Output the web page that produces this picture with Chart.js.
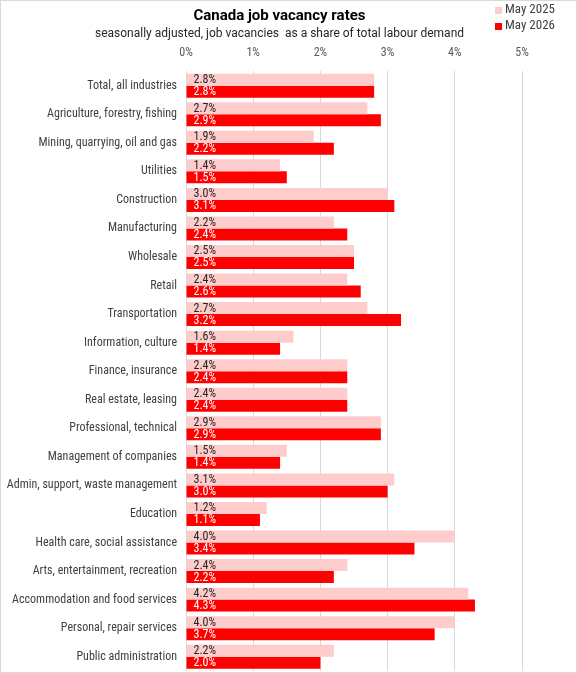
<!DOCTYPE html>
<html>
<head>
<meta charset="utf-8">
<script src="https://cdn.jsdelivr.net/npm/chart.js@4.4.1/dist/chart.umd.min.js"></script>
<style>
  html, body { margin: 0; padding: 0; background: #fff; }
  #wrap { width: 577px; height: 673px; box-sizing: border-box; border: 1px solid #d9d9d9; position: relative; }
  #wrap canvas { position: absolute; left: 0; top: 0; }
</style>
</head>
<body>
<div id="wrap"><canvas id="vacancyChart" width="577" height="673"></canvas></div>
<script>
// --- data ---
const industries = [
  "Total, all industries",
  "Agriculture, forestry, fishing",
  "Mining, quarrying, oil and gas",
  "Utilities",
  "Construction",
  "Manufacturing",
  "Wholesale",
  "Retail",
  "Transportation",
  "Information, culture",
  "Finance, insurance",
  "Real estate, leasing",
  "Professional, technical",
  "Management of companies",
  "Admin, support, waste management",
  "Education",
  "Health care, social assistance",
  "Arts, entertainment, recreation",
  "Accommodation and food services",
  "Personal, repair services",
  "Public administration"
];
const may2025 = [2.8, 2.7, 1.9, 1.4, 3.0, 2.2, 2.5, 2.4, 2.7, 1.6, 2.4, 2.4, 2.9, 1.5, 3.1, 1.2, 4.0, 2.4, 4.2, 4.0, 2.2];
const may2026 = [2.8, 2.9, 2.2, 1.5, 3.1, 2.4, 2.5, 2.6, 3.2, 1.4, 2.4, 2.4, 2.9, 1.4, 3.0, 1.1, 3.4, 2.2, 4.3, 3.7, 2.0];
const seriesNames = ["May 2025", "May 2026"];
const xTicks = [0, 1, 2, 3, 4, 5];

const FONT = "Roboto";
const NARROW = "'Liberation Sans Narrow', 'Roboto Condensed', Roboto";

// value labels at the start of each bar
const barStartLabels = {
  id: "barStartLabels",
  afterDatasetsDraw(chart) {
    const ctx = chart.ctx;
    ctx.save();
    ctx.font = "12px " + NARROW;
    ctx.textBaseline = "middle";
    ctx.textAlign = "left";
    chart.data.datasets.forEach((ds, di) => {
      const meta = chart.getDatasetMeta(di);
      meta.data.forEach((bar, i) => {
        ctx.fillStyle = ds.labelColor;
        ctx.fillText(ds.data[i].toFixed(1) + "%", bar.base + 7, bar.y + 0.5);
      });
    });
    ctx.restore();
  }
};

// small legend in the top right corner
const cornerLegend = {
  id: "cornerLegend",
  afterDraw(chart) {
    const ctx = chart.ctx;
    ctx.save();
    ctx.font = "13px " + NARROW;
    ctx.textBaseline = "middle";
    ctx.textAlign = "left";
    chart.data.datasets.forEach((ds, di) => {
      const y = 9 + di * 16;
      ctx.fillStyle = ds.backgroundColor;
      ctx.fillRect(494, y - 3, 7, 7);
      ctx.fillStyle = "#404040";
      ctx.fillText(ds.label, 504, y);
    });
    ctx.restore();
  }
};

const ctx = document.getElementById("vacancyChart").getContext("2d");
new Chart(ctx, {
  type: "bar",
  data: {
    labels: industries,
    datasets: [
      { label: seriesNames[0], data: may2025, backgroundColor: "#ffcccc", labelColor: "#262626" },
      { label: seriesNames[1], data: may2026, backgroundColor: "#ff0000", labelColor: "#ffffff" }
    ]
  },
  options: {
    indexAxis: "y",
    responsive: false,
    animation: false,
    devicePixelRatio: 1,
    categoryPercentage: 0.84,
    barPercentage: 1.0,
    layout: { padding: { top: 0, right: 20, bottom: 3, left: 0 } },
    plugins: {
      legend: { display: false },
      tooltip: { enabled: false },
      title: {
        display: true,
        text: "Canada job vacancy rates",
        color: "#000000",
        font: { family: FONT, size: 15, weight: "bold" },
        padding: { top: 6, bottom: 2 }
      },
      subtitle: {
        display: true,
        text: "seasonally adjusted, job vacancies  as a share of total labour demand",
        color: "#262626",
        font: { family: FONT, size: 12 },
        padding: { top: 0, bottom: 4 }
      }
    },
    scales: {
      x: {
        position: "top",
        min: 0,
        max: 5,
        afterBuildTicks: scale => { scale.ticks = xTicks.map(v => ({ value: v })); },
        ticks: {
          callback: v => v + "%",
          color: "#595959",
          font: { family: NARROW, size: 12 },
          padding: 11
        },
        grid: { color: "#d9d9d9", drawTicks: false },
        border: { display: false },
        afterFit: scale => {
          scale.height = 26;
          scale.paddingLeft = 0;
          scale.paddingRight = 0;
        }
      },
      y: {
        ticks: {
          color: "#404040",
          font: { family: NARROW, size: 12 },
          padding: 9,
          autoSkip: false
        },
        grid: { display: false, drawTicks: false },
        border: { display: false },
        afterFit: scale => {
          scale.width = 185;
          scale.paddingTop = 0;
          scale.paddingBottom = 0;
        }
      },
      yRight: {
        axis: "y",
        type: "category",
        position: "right",
        ticks: { display: false },
        grid: { display: false, drawTicks: false },
        border: { display: false },
        afterFit: scale => {
          scale.width = 36;
          scale.paddingTop = 0;
          scale.paddingBottom = 0;
        }
      }
    }
  },
  plugins: [barStartLabels, cornerLegend]
});
</script>
</body>
</html>
